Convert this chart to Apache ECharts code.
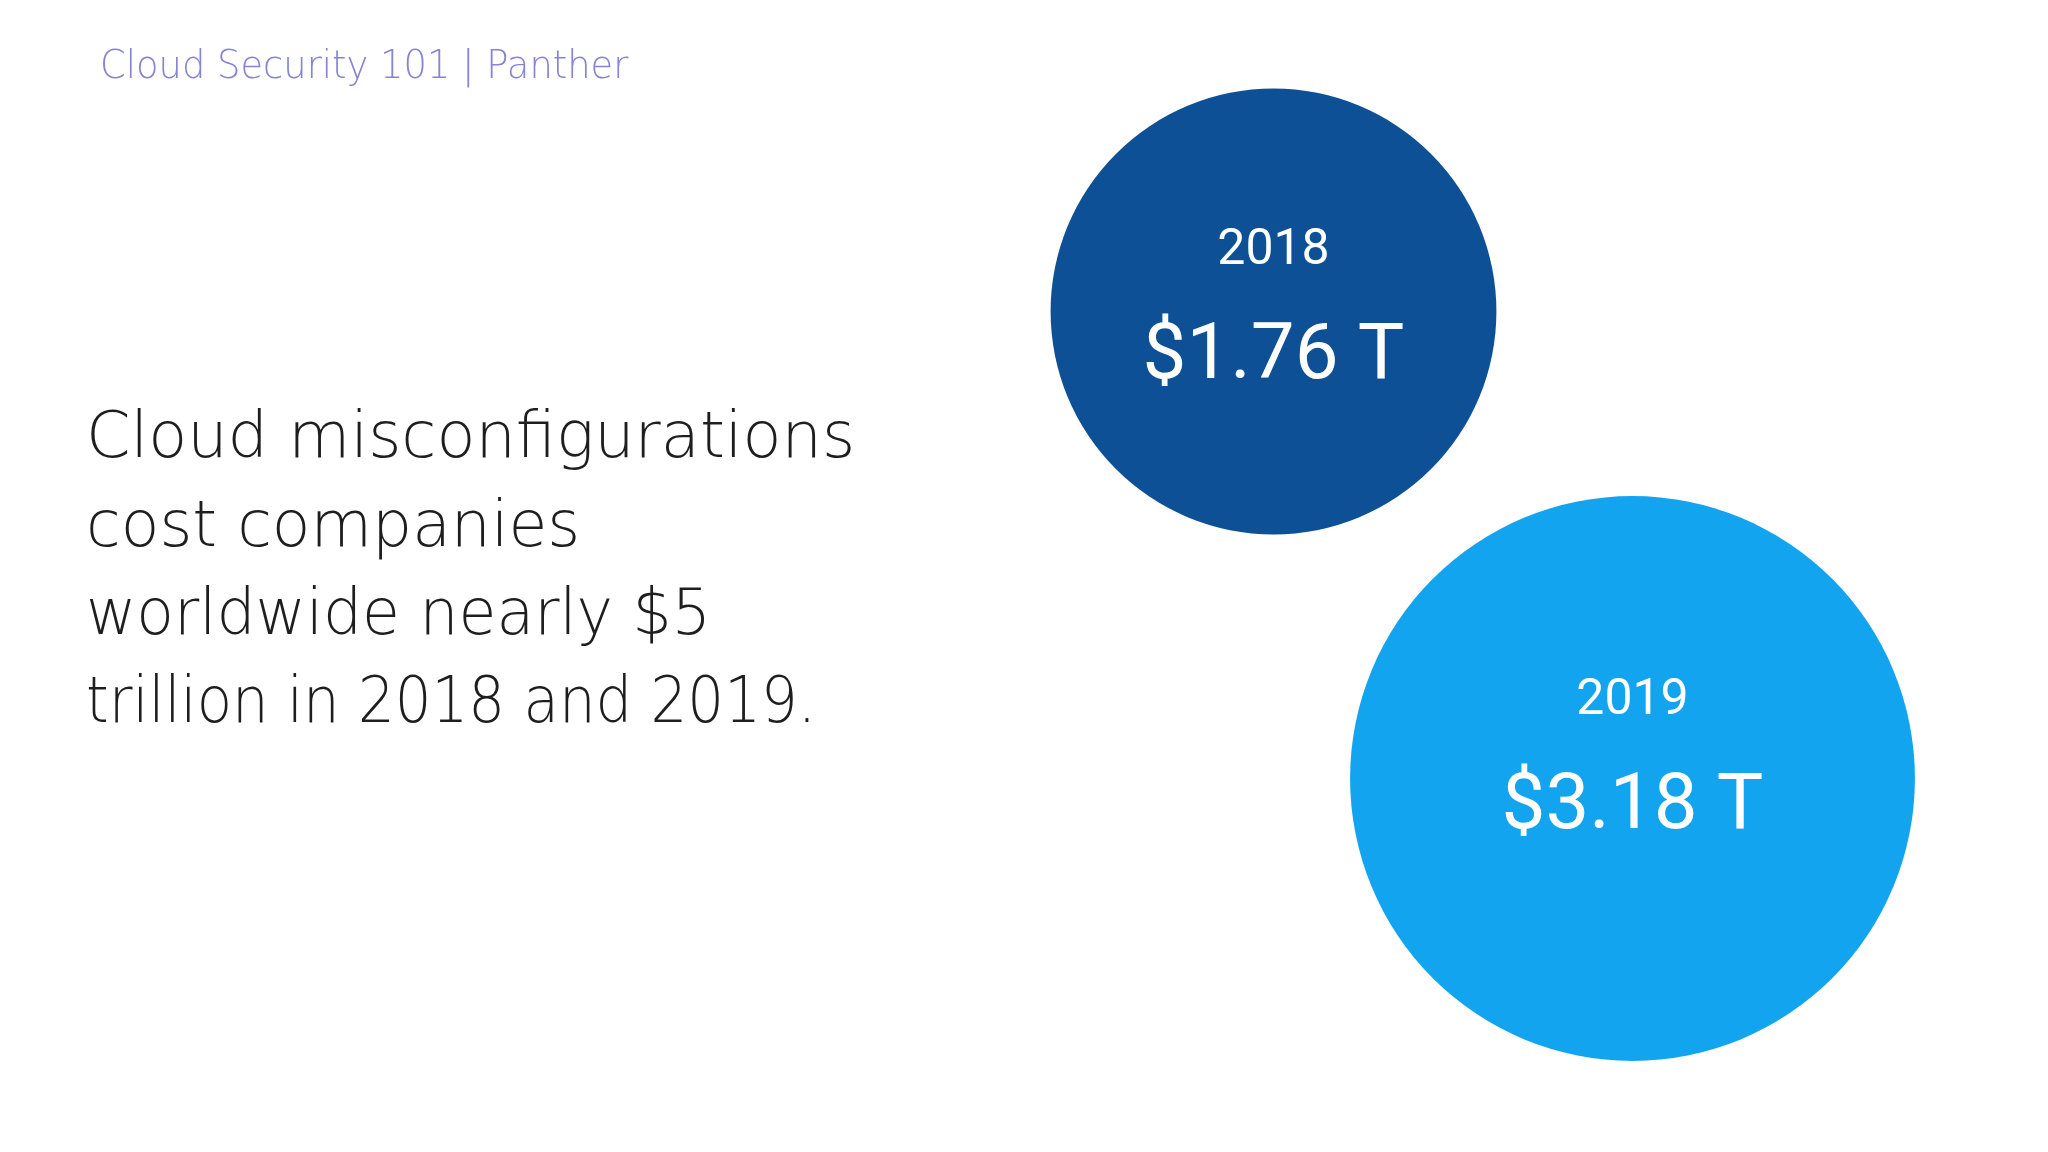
<!DOCTYPE html>
<html>
<head>
<meta charset="utf-8">
<script src="https://cdn.jsdelivr.net/npm/echarts@6/dist/echarts.min.js"></script>
<style>html,body{margin:0;padding:0;background:#fff}#c{width:2048px;height:1152px}</style>
</head>
<body>
<div id="c"></div>
<script>
const years = ['2018', '2019'];
const values = [1.76, 3.18];
const valueLabels = ['$1.76 T', '$3.18 T'];
const headerText = 'Cloud Security 101 | Panther';
const bodyLines = ['Cloud misconfigurations', 'cost companies', 'worldwide nearly $5', 'trillion in 2018 and 2019.'];

const colors = ['#0D5096', '#12A4EF'];
const labelOffsets = [[0, -15], [0, -32]];
const bodyScaleX = [0.996, 0.987, 0.962, 0.903];
const bodyBaseline0 = 463, bodyStep = 88.3, bodySize = 64;

const graphicEls = [{
  type: 'text', x: 100, y: 82 - 0.35 * 39, scaleX: 0.945, silent: true,
  style: {text: headerText, font: '200 39px "DejaVu Sans"', fill: '#8783D6', verticalAlign: 'middle', align: 'left'}
}].concat(bodyLines.map((t, i) => ({
  type: 'text', x: 86, y: bodyBaseline0 + i * bodyStep - 0.35 * bodySize, scaleX: bodyScaleX[i], silent: true,
  style: {text: t, font: '200 ' + bodySize + 'px "DejaVu Sans"', fill: '#1e1e1e', verticalAlign: 'middle', align: 'left'}
})));

const chart = echarts.init(document.getElementById('c'), null, {renderer: 'canvas'});
chart.setOption({
  backgroundColor: '#ffffff',
  animation: false,
  graphic: {elements: graphicEls},
  grid: {left: 1094, width: 718, top: 78, height: 934},
  xAxis: {type: 'category', data: years, show: false},
  yAxis: {type: 'category', data: years, inverse: true, show: false},
  series: [{
    type: 'scatter',
    symbol: 'circle',
    symbolSize: (val) => 355.6 * Math.pow(val[2], 0.4),
    data: years.map((y, i) => ({
      value: [y, y, values[i]],
      itemStyle: {color: colors[i], opacity: 1},
      label: {offset: labelOffsets[i]}
    })),
    label: {
      show: true,
      position: 'inside',
      formatter: (p) => '{y|' + years[p.dataIndex] + '}\n{v|' + valueLabels[p.dataIndex] + '}',
      rich: {
        y: {fontFamily: 'Roboto', fontSize: 50, color: '#ffffff', lineHeight: 124, align: 'center'},
        v: {fontFamily: 'Roboto', fontSize: 78, color: '#ffffff', lineHeight: 90, align: 'center'}
      }
    },
    emphasis: {disabled: true}
  }]
});
</script>
</body>
</html>
